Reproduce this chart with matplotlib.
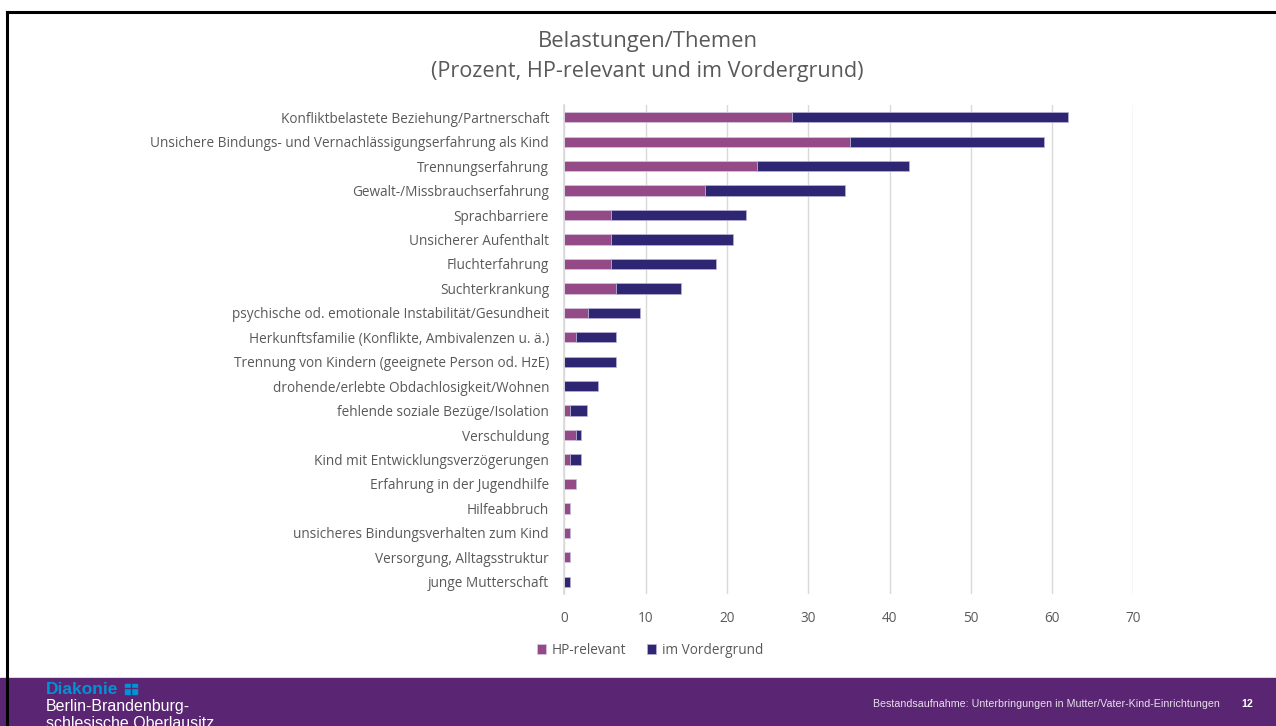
import matplotlib
matplotlib.use('Agg')
import matplotlib.pyplot as plt
from matplotlib.patches import Rectangle
from matplotlib.lines import Line2D

# data (percent)
categories = [
    'Konfliktbelastete Beziehung/Partnerschaft',
    'Unsichere Bindungs- und Vernachlässigungserfahrung als Kind',
    'Trennungserfahrung',
    'Gewalt-/Missbrauchserfahrung',
    'Sprachbarriere',
    'Unsicherer Aufenthalt',
    'Fluchterfahrung',
    'Suchterkrankung',
    'psychische od. emotionale Instabilität/Gesundheit',
    'Herkunftsfamilie (Konflikte, Ambivalenzen u. ä.)',
    'Trennung von Kindern (geeignete Person od. HzE)',
    'drohende/erlebte Obdachlosigkeit/Wohnen',
    'fehlende soziale Bezüge/Isolation',
    'Verschuldung',
    'Kind mit Entwicklungsverzögerungen',
    'Erfahrung in der Jugendhilfe',
    'Hilfeabbruch',
    'unsicheres Bindungsverhalten zum Kind',
    'Versorgung, Alltagsstruktur',
    'junge Mutterschaft',
]
hp_relevant = [28.0, 35.2, 23.7, 17.3, 5.7, 5.7, 5.7, 6.4, 2.9, 1.4,
               0.0, 0.0, 0.7, 1.4, 0.7, 1.4, 0.7, 0.7, 0.7, 0.0]
vordergrund = [34.0, 23.8, 18.7, 17.2, 16.6, 15.1, 13.0, 7.9, 6.4, 5.0,
               6.4, 4.2, 2.1, 0.7, 1.4, 0.0, 0.0, 0.0, 0.0, 0.7]
x_ticks = [0, 10, 20, 30, 40, 50, 60, 70]

pink = '#934A86'
navy = '#2E2672'
grey = '#595959'
footer = '#5A2572'

plt.rcParams['font.family'] = ['Open Sans', 'DejaVu Sans']

W, H = 1276, 726
fig = plt.figure(figsize=(W / 100, H / 100), dpi=100)

# slide frame and footer band
fig.add_artist(Rectangle((0, 0), 1, 48 / H, transform=fig.transFigure, color=footer, zorder=5))
fig.add_artist(Line2D([7 / W, 7 / W], [0, 1 - 12 / H], transform=fig.transFigure, color='black',
                      lw=2.2, zorder=8))
fig.add_artist(Line2D([7 / W, 1], [1 - 12 / H, 1 - 12 / H], transform=fig.transFigure, color='black',
                      lw=2.2, zorder=8))

ax = fig.add_axes([564.3 / W, 1 - 594 / H, (1133.4 - 564.3) / W, 489 / H])
ypos = list(range(len(categories)))
ax.barh(ypos, hp_relevant, height=0.42, color=pink, edgecolor='#d8c8e0', linewidth=0.5,
        label='HP-relevant', zorder=3)
ax.barh(ypos, vordergrund, left=hp_relevant, height=0.42, color=navy, edgecolor='#b9b3d6',
        linewidth=0.5, label='im Vordergrund', zorder=3)

ax.set_ylim(len(categories) - 0.5, -0.5)
ax.set_xlim(0, 70)
ax.set_xticks(x_ticks)
ax.set_yticks(ypos)
ax.set_yticklabels(categories)
ax.tick_params(axis='y', length=0, pad=11, labelsize=9.8, labelcolor=grey)
ax.tick_params(axis='x', length=0, pad=12, labelsize=9.8, labelcolor=grey)
ax.grid(axis='x', color='#d9d9d9', lw=1, zorder=0)
for s in ['top', 'right', 'bottom']:
    ax.spines[s].set_visible(False)
ax.spines['left'].set_color('#d9d9d9')
ax.spines['left'].set_linewidth(1.2)
ax.spines['left'].set_zorder(4)

fig.text(648 / W, 1 - 41 / H, 'Belastungen/Themen', ha='center', va='center', fontsize=15.8, color=grey)
fig.text(647 / W, 1 - 71 / H, '(Prozent, HP-relevant und im Vordergrund)', ha='center', va='center',
         fontsize=15.6, color=grey)

fig.legend(loc='center', bbox_to_anchor=(650 / W, 1 - 650 / H), ncol=2, frameon=False,
           handlelength=0.7, handleheight=0.7, handletextpad=0.4, columnspacing=1.5,
           fontsize=9.8, labelcolor=grey)

# footer texts
fig.text(46 / W, 1 - 689 / H, 'Diakonie', fontsize=12.5, fontweight='bold', color='#0093D6',
         family='Liberation Sans', va='center', zorder=6)
fig.add_artist(Rectangle((125 / W, 1 - 694 / H), 12 / W, 10 / H, transform=fig.transFigure,
                         color='#0093D6', zorder=6))
fig.add_artist(Line2D([131 / W, 131 / W], [1 - 694 / H, 1 - 684 / H], transform=fig.transFigure,
                      color=footer, lw=1, zorder=7))
fig.add_artist(Line2D([125 / W, 137 / W], [1 - 688 / H, 1 - 688 / H], transform=fig.transFigure,
                      color=footer, lw=1, zorder=7))
fig.text(46 / W, 1 - 706 / H, 'Berlin-Brandenburg-', fontsize=11.5, color='white',
         family='Liberation Sans', va='center', zorder=6)
fig.text(46 / W, 1 - 724 / H, 'schlesische Oberlausitz', fontsize=11.5, color='white',
         family='Liberation Sans', va='center', zorder=6)
fig.text(1220 / W, 1 - 704 / H, 'Bestandsaufnahme: Unterbringungen in Mutter/Vater-Kind-Einrichtungen',
         fontsize=7.7, color='#e8e0ec', family='Liberation Sans', ha='right', va='center', zorder=6)
fig.text(1247 / W, 1 - 704 / H, '12', fontsize=7.7, color='white', fontweight='bold',
         family='Liberation Sans', ha='center', va='center', zorder=6)

fig.savefig('out.png', dpi=100)
